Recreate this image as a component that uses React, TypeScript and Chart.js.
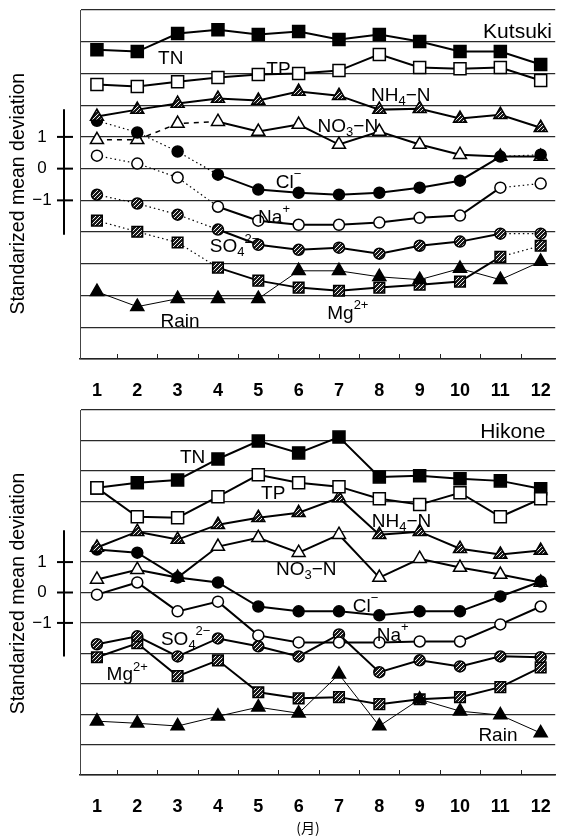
import React, { useEffect, useRef } from 'react';
import { Chart, registerables } from 'chart.js';

Chart.register(...registerables);

// ---------- data ----------
const months = [1, 2, 3, 4, 5, 6, 7, 8, 9, 10, 11, 12];

// Kutsuki (values as plotted, with each series' vertical offset)
const kTN = [3.75, 3.69, 4.26, 4.38, 4.23, 4.32, 4.07, 4.23, 4.01, 3.69, 3.69, 3.28];
const kTP = [2.65, 2.59, 2.74, 2.87, 2.97, 3.0, 3.09, 3.6, 3.19, 3.15, 3.19, 2.78];
const kNH4 = [1.64, 1.86, 2.05, 2.21, 2.15, 2.43, 2.3, 1.86, 1.89, 1.58, 1.7, 1.29];
const kNO3 = [0.91, 0.91, 1.42, 1.48, 1.17, 1.39, 0.76, 1.17, 0.76, 0.44, 0.38, 0.38];
const kCl = [1.51, 1.14, 0.54, -0.19, -0.66, -0.76, -0.82, -0.76, -0.6, -0.38, 0.38, 0.44];
const kNa = [0.41, 0.16, -0.28, -1.2, -1.64, -1.77, -1.77, -1.7, -1.55, -1.48, -0.6, -0.47];
const kSO4 = [-0.82, -1.1, -1.45, -1.92, -2.4, -2.56, -2.49, -2.68, -2.43, -2.3, -2.05, -2.05];
const kMg = [-1.64, -1.99, -2.33, -3.12, -3.53, -3.75, -3.85, -3.75, -3.66, -3.56, -2.78, -2.43];
const kRain = [-3.88, -4.35, -4.1, -4.1, -4.1, -3.22, -3.22, -3.41, -3.5, -3.15, -3.5, -2.93];

// Hikone
const hTN = [3.44, 3.61, 3.7, 4.39, 4.98, 4.59, 5.11, 3.8, 3.84, 3.74, 3.67, 3.41];
const hTP = [3.44, 2.49, 2.46, 3.15, 3.87, 3.61, 3.48, 3.08, 2.89, 3.28, 2.49, 3.08];
const hNH4 = [1.48, 2.0, 1.74, 2.23, 2.46, 2.62, 3.11, 1.9, 2.0, 1.44, 1.25, 1.38];
const hNO3 = [0.43, 0.75, 0.49, 1.51, 1.8, 1.31, 1.9, 0.49, 1.11, 0.82, 0.59, 0.33];
const hCl = [1.41, 1.31, 0.49, 0.33, -0.46, -0.62, -0.62, -0.75, -0.62, -0.62, -0.13, 0.36];
const hNa = [-0.07, 0.33, -0.62, -0.3, -1.41, -1.64, -1.64, -1.64, -1.61, -1.61, -1.05, -0.46];
const hSO4 = [-1.7, -1.44, -2.1, -1.51, -1.77, -2.1, -1.38, -2.62, -2.23, -2.43, -2.1, -2.13];
const hMg = [-2.13, -1.67, -2.75, -2.23, -3.28, -3.48, -3.44, -3.67, -3.51, -3.44, -3.11, -2.46];
const hRain = [-4.23, -4.3, -4.39, -4.07, -3.77, -3.97, -2.69, -4.39, -3.51, -3.9, -4.03, -4.62];

const axisTickValues = [1, 0, -1];
const axisTickLabels = ['1', '0', '\u22121'];
const yTitle = 'Standarized mean deviation';
const xUnit = '(月)';

// segments (by start index) drawn dotted / dashed in the Kutsuki panel
const kDottedSegs = [0, 1, 2, 10];
const kDashedSegs = [0, 1, 2];

type Part = [string, 'n' | 'sub' | 'sup'];
interface Note { parts: Part[]; x: number; y: number; align?: 'center' | 'right'; big?: boolean }

const kNotes: Note[] = [
  { parts: [['TN', 'n']], x: 2.83, y: 3.47 },
  { parts: [['TP', 'n']], x: 5.5, y: 3.12 },
  { parts: [['NH', 'n'], ['4', 'sub'], ['\u2212N', 'n']], x: 8.53, y: 2.3 },
  { parts: [['NO', 'n'], ['3', 'sub'], ['\u2212N', 'n']], x: 7.22, y: 1.32 },
  { parts: [['Cl', 'n'], ['\u2212', 'sup']], x: 5.75, y: -0.44 },
  { parts: [['Na', 'n'], ['+', 'sup']], x: 5.39, y: -1.55 },
  { parts: [['SO', 'n'], ['4', 'sub'], ['2\u2212', 'sup']], x: 4.41, y: -2.47 },
  { parts: [['Mg', 'n'], ['2+', 'sup']], x: 7.22, y: -4.57 },
  { parts: [['Rain', 'n']], x: 3.06, y: -4.83 },
  { parts: [['Kutsuki', 'n']], x: 12.28, y: 4.29, align: 'right', big: true },
];

const hNotes: Note[] = [
  { parts: [['TN', 'n']], x: 3.37, y: 4.43 },
  { parts: [['TP', 'n']], x: 5.37, y: 3.25 },
  { parts: [['NH', 'n'], ['4', 'sub'], ['\u2212N', 'n']], x: 8.55, y: 2.33 },
  { parts: [['NO', 'n'], ['3', 'sub'], ['\u2212N', 'n']], x: 6.19, y: 0.75 },
  { parts: [['Cl', 'n'], ['\u2212', 'sup']], x: 7.66, y: -0.46 },
  { parts: [['Na', 'n'], ['+', 'sup']], x: 8.33, y: -1.41 },
  { parts: [['SO', 'n'], ['4', 'sub'], ['2\u2212', 'sup']], x: 3.2, y: -1.54 },
  { parts: [['Mg', 'n'], ['2+', 'sup']], x: 1.75, y: -2.72 },
  { parts: [['Rain', 'n']], x: 10.94, y: -4.72 },
  { parts: [['Hikone', 'n']], x: 12.12, y: 5.28, align: 'right', big: true },
];

// ---------- styling ----------
const LABEL_FONT_FAMILY = '"Liberation Sans Narrow", "Liberation Sans", sans-serif';
const SANS = '"Liberation Sans", Arial, sans-serif';

function makeHatch(): CanvasPattern | string {
  const c = document.createElement('canvas');
  c.width = 4;
  c.height = 4;
  const g = c.getContext('2d');
  if (!g) return '#444';
  g.fillStyle = '#1a1a1a';
  g.fillRect(0, 0, 4, 4);
  g.strokeStyle = '#f0f0f0';
  g.lineWidth = 1;
  g.beginPath();
  g.moveTo(0, 4);
  g.lineTo(4, 0);
  g.stroke();
  return g.createPattern(c, 'repeat') || '#444';
}

function drawNote(ctx: CanvasRenderingContext2D, n: Note, px: number, py: number) {
  const size = n.big ? 21 : 19;
  const fam = n.big ? SANS : LABEL_FONT_FAMILY;
  const small = Math.round(size * 0.68);
  const fontFor = (k: string) => `${k === 'n' ? size : small}px ${fam}`;
  let total = 0;
  for (const [t, k] of n.parts) {
    ctx.font = fontFor(k);
    total += ctx.measureText(t).width;
  }
  let x = n.align === 'right' ? px - total : px - total / 2;
  ctx.textAlign = 'left';
  ctx.textBaseline = 'middle';
  ctx.fillStyle = '#000';
  for (const [t, k] of n.parts) {
    ctx.font = fontFor(k);
    const dy = k === 'sub' ? size * 0.3 : k === 'sup' ? -size * 0.42 : 0;
    ctx.fillText(t, x, py + dy);
    x += ctx.measureText(t).width;
  }
}

const decorPlugin = {
  id: 'decor',
  afterDraw(chart: any, _args: any, opts: any) {
    const { ctx, chartArea } = chart;
    const xs = chart.scales.x;
    const ys = chart.scales.y;
    ctx.save();
    // small inner ticks at month boundaries on the bottom axis
    ctx.strokeStyle = '#222';
    ctx.lineWidth = 1;
    for (let m = 1; m < 12; m++) {
      const px = Math.round(xs.getPixelForValue(m + 0.5)) + 0.5;
      ctx.beginPath();
      ctx.moveTo(px, chartArea.bottom);
      ctx.lineTo(px, chartArea.bottom - 5);
      ctx.stroke();
    }
    // detached value axis (1, 0, -1)
    const ax = 64;
    ctx.strokeStyle = '#000';
    ctx.lineWidth = 2;
    ctx.beginPath();
    ctx.moveTo(ax, ys.getPixelForValue(opts.axisTop));
    ctx.lineTo(ax, ys.getPixelForValue(opts.axisBottom));
    ctx.stroke();
    ctx.font = `17px ${SANS}`;
    ctx.fillStyle = '#000';
    ctx.textAlign = 'center';
    ctx.textBaseline = 'middle';
    axisTickValues.forEach((v, i) => {
      const py = ys.getPixelForValue(v);
      ctx.beginPath();
      ctx.moveTo(ax - 7, py);
      ctx.lineTo(ax + 9, py);
      ctx.stroke();
      ctx.fillText(axisTickLabels[i], 42, py);
    });
    // y title
    ctx.save();
    ctx.translate(19, ys.getPixelForValue(opts.titleV));
    ctx.rotate(-Math.PI / 2);
    ctx.font = `19.5px ${SANS}`;
    ctx.textAlign = 'center';
    ctx.textBaseline = 'middle';
    ctx.fillText(yTitle, 0, 0);
    ctx.restore();
    // series labels
    for (const n of opts.notes as Note[]) {
      drawNote(ctx, n, xs.getPixelForValue(n.x), ys.getPixelForValue(n.y));
    }
    // month unit
    if (opts.unit) {
      ctx.font = `14px "Noto Sans CJK JP", ${SANS}`;
      ctx.textAlign = 'center';
      ctx.textBaseline = 'middle';
      ctx.fillStyle = '#000';
      ctx.fillText(xUnit, xs.getPixelForValue(6.23), chartArea.bottom + 53);
    }
    ctx.restore();
  },
};

function buildConfig(panel: 'k' | 'h', hatch: CanvasPattern | string) {
  const isK = panel === 'k';
  const pts = (arr: number[]) => months.map((m, i) => ({ x: m, y: arr[i] }));
  const dotted = (idx: number) => isK && kDottedSegs.includes(idx);
  const dashed = (idx: number) => isK && kDashedSegs.includes(idx);
  const base = (label: string, arr: number[], style: string, radius: number, fill: any, order: number, extra: any = {}) => ({
    label,
    data: pts(arr),
    borderColor: '#000',
    borderWidth: 2,
    pointStyle: style,
    pointRadius: radius,
    pointBackgroundColor: fill,
    pointBorderColor: '#000',
    pointBorderWidth: 1.5,
    order,
    clip: false,
    ...extra,
  });
  const dotSeg = {
    segment: {
      borderDash: (c: any) => (dotted(c.p0DataIndex) ? [1.5, 3] : undefined),
      borderWidth: (c: any) => (dotted(c.p0DataIndex) ? 1.2 : undefined),
    },
  };
  const dashSeg = {
    segment: {
      borderDash: (c: any) => (dashed(c.p0DataIndex) ? [5, 5] : undefined),
      borderWidth: (c: any) => (dashed(c.p0DataIndex) ? 1.5 : undefined),
    },
  };
  const d = isK
    ? [kTN, kTP, kNH4, kNO3, kCl, kNa, kSO4, kMg, kRain]
    : [hTN, hTP, hNH4, hNO3, hCl, hNa, hSO4, hMg, hRain];
  const datasets = [
    base('TN', d[0], 'rect', 8.5, '#000', 3),
    base('TP', d[1], 'rect', 8.5, '#fff', 2),
    base('NH4-N', d[2], 'triangle', 7.5, hatch, 4),
    base('NO3-N', d[3], 'triangle', 7.5, '#fff', 6, dashSeg),
    base('Cl-', d[4], 'circle', 5.5, '#000', 5, dotSeg),
    base('Na+', d[5], 'circle', 5.5, '#fff', 7, dotSeg),
    base('SO4 2-', d[6], 'circle', 5.5, hatch, 8, dotSeg),
    base('Mg2+', d[7], 'rect', 7.5, hatch, 9, dotSeg),
    base('Rain', d[8], 'triangle', 7.5, '#000', 1, { borderWidth: 1 }),
  ];
  const chartBottom = isK ? 359 : 375;
  const canvasH = isK ? 400 : 436;
  return {
    type: 'line' as const,
    data: { datasets },
    options: {
      animation: false,
      responsive: false,
      maintainAspectRatio: false,
      layout: { padding: { left: 80, top: isK ? 8 : 9, right: 0, bottom: 0 } },
      plugins: {
        legend: { display: false },
        tooltip: { enabled: false },
        decor: {
          notes: isK ? kNotes : hNotes,
          axisTop: isK ? 1.87 : 2.05,
          axisBottom: isK ? -2.08 : -2.1,
          titleV: isK ? -0.79 : -0.03,
          unit: !isK,
        },
      },
      scales: {
        x: {
          type: 'linear',
          min: 0.58,
          max: 12.36,
          afterBuildTicks: (s: any) => {
            s.ticks = months.map((v) => ({ value: v }));
          },
          afterFit: (s: any) => {
            s.height = canvasH - chartBottom;
          },
          ticks: {
            autoSkip: false,
            maxRotation: 0,
            padding: 21,
            color: '#000',
            font: { family: SANS, size: 18, weight: 'bold' },
            callback: (v: any) => String(v),
          },
          grid: { display: false, drawTicks: false },
          border: { display: true, color: '#222', width: 1.5 },
        },
        y: {
          min: -6,
          max: isK ? 5 : 6,
          afterBuildTicks: (s: any) => {
            const t = [];
            for (let v = -6; v <= (isK ? 5 : 6); v++) t.push({ value: v });
            s.ticks = t;
          },
          afterFit: (s: any) => {
            s.width = 0;
          },
          ticks: { display: false },
          grid: { color: '#2a2a2a', lineWidth: 1.3, drawTicks: false },
          border: { display: true, color: '#444', width: 1 },
        },
      },
    },
    plugins: [decorPlugin],
  };
}

function Panel({ panel, height }: { panel: 'k' | 'h'; height: number }) {
  const ref = useRef<HTMLCanvasElement>(null);
  useEffect(() => {
    if (!ref.current) return;
    const hatch = makeHatch();
    const chart = new Chart(ref.current, buildConfig(panel, hatch) as any);
    return () => chart.destroy();
  }, [panel]);
  return <canvas ref={ref} width={572} height={height} style={{ display: 'block', width: 572, height }} />;
}

export default function App() {
  return (
    <div style={{ position: 'absolute', left: 0, top: 0, width: 572, height: 836, background: '#fff' }}>
      <Panel panel="k" height={400} />
      <Panel panel="h" height={436} />
    </div>
  );
}
